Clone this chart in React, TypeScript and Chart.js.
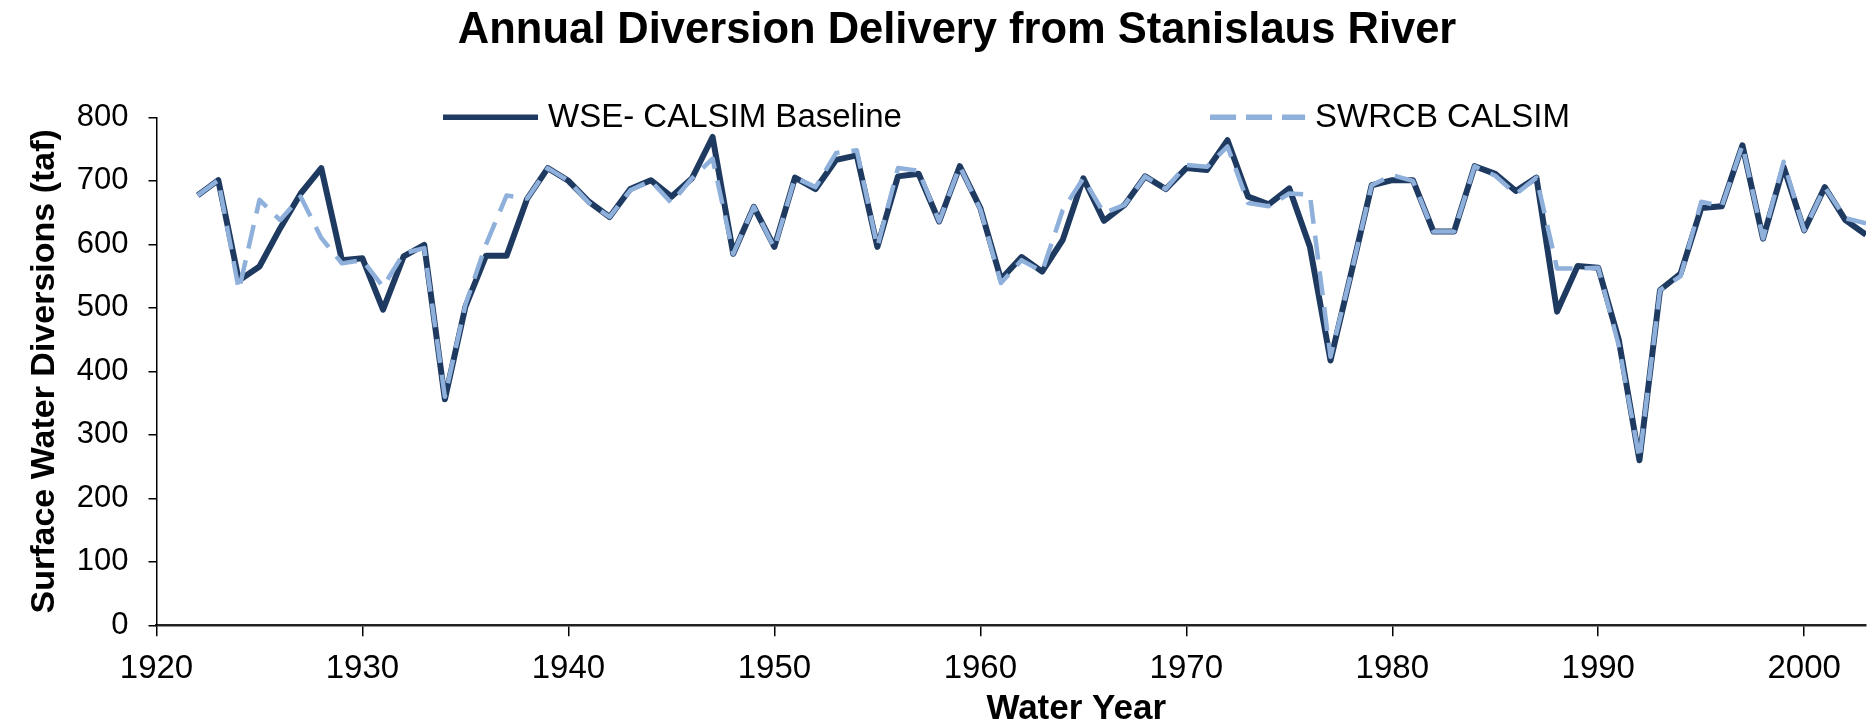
import React, { useEffect, useRef } from "react";
import { Chart, registerables } from "chart.js";

Chart.register(...registerables);

const titleText = "Annual Diversion Delivery from Stanislaus River";
const xAxisTitle = "Water Year";
const yAxisTitle = "Surface Water Diversions (taf)";

const years = [
  1922, 1923, 1924, 1925, 1926, 1927, 1928, 1929, 1930, 1931,
  1932, 1933, 1934, 1935, 1936, 1937, 1938, 1939, 1940, 1941,
  1942, 1943, 1944, 1945, 1946, 1947, 1948, 1949, 1950, 1951,
  1952, 1953, 1954, 1955, 1956, 1957, 1958, 1959, 1960, 1961,
  1962, 1963, 1964, 1965, 1966, 1967, 1968, 1969, 1970, 1971,
  1972, 1973, 1974, 1975, 1976, 1977, 1978, 1979, 1980, 1981,
  1982, 1983, 1984, 1985, 1986, 1987, 1988, 1989, 1990, 1991,
  1992, 1993, 1994, 1995, 1996, 1997, 1998, 1999, 2000, 2001,
  2002, 2003,
];

const wseBaseline = [
  677, 701, 543, 565, 625, 680, 720, 575, 578, 497,
  581, 599, 356, 502, 582, 582, 672, 720, 700, 667,
  643, 687, 701, 675, 704, 769, 585, 659, 596, 705,
  687, 733, 740, 596, 707, 711, 636, 723, 657, 545,
  580, 557, 607, 704, 637, 662, 707, 687, 720, 717,
  764, 675, 663, 688, 596, 417, 554, 693, 701, 701,
  620, 620, 723, 711, 684, 705, 494, 566, 563, 449,
  260, 528, 554, 657, 660, 756, 609, 722, 622, 690,
  638, 615,
];

const swrcbCalsim = [
  677, 701, 528, 670, 638, 675, 610, 570, 575, 533,
  586, 594, 360, 505, 600, 677, 672, 720, 700, 665,
  643, 685, 700, 665, 704, 735, 585, 659, 594, 705,
  690, 744, 748, 596, 720, 716, 636, 723, 655, 539,
  575, 557, 654, 704, 649, 662, 707, 687, 725, 722,
  754, 665, 660, 680, 678, 423, 554, 693, 709, 700,
  620, 620, 723, 708, 679, 705, 562, 562, 563, 440,
  262, 528, 550, 667, 660, 756, 609, 730, 622, 690,
  641, 633,
];

const xTicks = [1920, 1930, 1940, 1950, 1960, 1970, 1980, 1990, 2000];
const yTicks = [0, 100, 200, 300, 400, 500, 600, 700, 800];

const seriesNames = ["WSE- CALSIM Baseline", "SWRCB CALSIM"];

const DARK = "#1F3A60";
const LIGHT = "#8EB0DA";
const FONT = "'Liberation Sans', Arial, Helvetica, sans-serif";

const decorPlugin = {
  id: "decor",
  afterDraw(chart: any) {
    const { ctx, chartArea, width } = chart;
    const left = chartArea.left;
    const w = chartArea.right - chartArea.left;
    ctx.save();
    // Title
    ctx.fillStyle = "#000";
    ctx.font = `bold 43.5px ${FONT}`;
    ctx.textAlign = "center";
    ctx.textBaseline = "middle";
    ctx.fillText(titleText, width * 0.5118, 31);

    // X-axis title
    ctx.font = `bold 35px ${FONT}`;
    ctx.fillText(xAxisTitle, left + w * 0.538, 709);

    // Legend
    const items = [
      { name: seriesNames[0], color: DARK, dash: [] as number[], frac: 0.1676, lw: 5.5 },
      { name: seriesNames[1], color: LIGHT, dash: [26, 10], frac: 0.6163, lw: 5.5 },
    ];
    const y = chartArea.top;
    for (const it of items) {
      const x0 = left + w * it.frac;
      ctx.beginPath();
      ctx.setLineDash(it.dash);
      ctx.strokeStyle = it.color;
      ctx.lineWidth = it.lw;
      ctx.lineCap = "butt";
      ctx.moveTo(x0, y);
      ctx.lineTo(x0 + 95, y);
      ctx.stroke();
      ctx.setLineDash([]);
      ctx.font = `33px ${FONT}`;
      ctx.textAlign = "left";
      ctx.textBaseline = "middle";
      ctx.fillStyle = "#000";
      ctx.fillText(it.name, x0 + 105, y + 1);
    }
    ctx.restore();
  },
};

export default function App() {
  const canvasRef = useRef<HTMLCanvasElement | null>(null);

  useEffect(() => {
    document.body.style.margin = "0";
    const canvas = canvasRef.current;
    if (!canvas) return;
    const chart = new Chart(canvas, {
      type: "line",
      data: {
        datasets: [
          {
            label: seriesNames[0],
            data: years.map((yr, i) => ({ x: yr, y: wseBaseline[i] })),
            borderColor: DARK,
            backgroundColor: DARK,
            borderWidth: 6,
            borderJoinStyle: "round",
            pointRadius: 0,
            tension: 0,
            order: 2,
          },
          {
            label: seriesNames[1],
            data: years.map((yr, i) => ({ x: yr, y: swrcbCalsim[i] })),
            borderColor: LIGHT,
            backgroundColor: LIGHT,
            borderWidth: 4.5,
            borderDash: [24, 12],
            borderJoinStyle: "round",
            pointRadius: 0,
            tension: 0,
            order: 1,
          },
        ],
      },
      options: {
        responsive: false,
        animation: false,
        layout: { padding: { top: 117.3, left: 20, right: 4, bottom: 0 } },
        plugins: {
          legend: { display: false },
          title: { display: false },
          tooltip: { enabled: false },
        },
        scales: {
          x: {
            type: "linear",
            min: 1920,
            max: 2003,
            afterBuildTicks: (scale: any) => {
              scale.ticks = xTicks.map((v) => ({ value: v }));
            },
            afterFit: (scale: any) => {
              scale.height = 99.7;
            },
            border: { display: true, color: "#222", width: 2.5 },
            grid: {
              display: true,
              drawOnChartArea: false,
              drawTicks: true,
              tickLength: 11,
              color: "#000",
              lineWidth: 1.5,
            },
            ticks: {
              color: "#000",
              padding: 13,
              maxRotation: 0,
              autoSkip: false,
              font: { family: FONT, size: 33 },
              callback: (v: any) => String(v),
            },
            title: { display: false },
          },
          y: {
            type: "linear",
            min: 0,
            max: 800,
            afterBuildTicks: (scale: any) => {
              scale.ticks = yTicks.map((v) => ({ value: v }));
            },
            afterFit: (scale: any) => {
              scale.width = 136.5;
            },
            border: { display: true, color: "#000", width: 1.5 },
            grid: {
              display: true,
              drawOnChartArea: false,
              drawTicks: true,
              tickLength: 8,
              color: "#000",
              lineWidth: 1.5,
            },
            ticks: {
              color: "#000",
              padding: 20,
              font: { family: FONT, size: 31 },
              callback: (v: any) => String(v),
            },
            title: {
              display: true,
              text: yAxisTitle,
              color: "#000",
              font: { family: FONT, size: 34, weight: "bold" },
              padding: { top: 4, bottom: 0 },
            },
          },
        },
      },
      plugins: [decorPlugin],
    });
    return () => chart.destroy();
  }, []);

  return (
    <div style={{ width: 1870, height: 725, background: "#fff" }}>
      <canvas ref={canvasRef} width={1870} height={725} />
    </div>
  );
}
